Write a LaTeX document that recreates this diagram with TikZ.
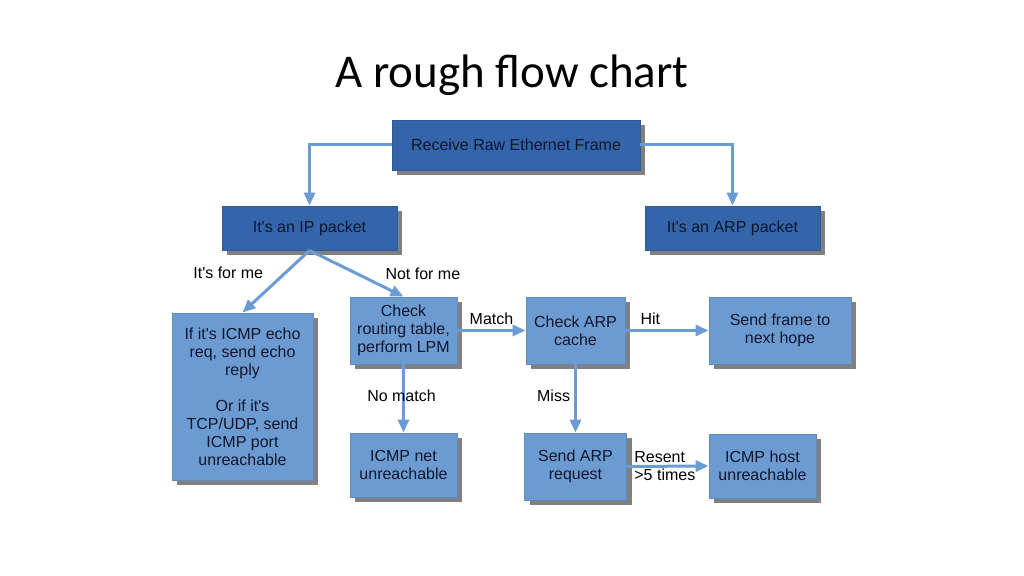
\documentclass[tikz,border=0pt]{standalone}
\usepackage{fontspec}
\setmainfont{Liberation Sans}
\newfontfamily\titlefont{Carlito}
\usetikzlibrary{positioning,arrows.meta,shadows}

\definecolor{darkbox}{RGB}{52,101,170}
\definecolor{lightbox}{RGB}{108,155,210}
\definecolor{arrowblue}{RGB}{106,155,210}
\definecolor{boxtext}{RGB}{14,22,44}
\definecolor{shadowgray}{RGB}{128,128,128}

\newcommand{\apos}{\textquotesingle}

\tikzset{
	box/.style={rectangle, draw=#1!90!black, line width=0.4pt, fill=#1,
		text=boxtext, align=center, inner sep=0pt,
		font=\fontsize{8}{9}\selectfont,
		drop shadow={shadow xshift=2.5pt, shadow yshift=-2.5pt,
			fill=shadowgray, opacity=1}},
	darkbox/.style={box=darkbox},
	lightbox/.style={box=lightbox},
	arr/.style={draw=arrowblue, line width=1.5pt,
		-{Triangle[length=6.5pt,width=5.5pt]}},
	lbl/.style={text=black, font=\fontsize{8}{9}\selectfont, inner sep=2pt}
}

\begin{document}
\begin{tikzpicture}[x=0.5pt,y=-0.5pt]
	\useasboundingbox (0,0) rectangle (1024,576);

	\node[font=\titlefont\fontsize{23.5}{28}\selectfont] (title) at (512,75) {A rough flow chart};

	\node[darkbox, minimum width=124pt, minimum height=25pt] 
		  (recv) at (516,145) {Receive Raw Ethernet Frame};
	\node[darkbox, minimum width=87.5pt, minimum height=22pt] 
		  (ip) at (309.5,228) {It\apos s an IP packet};
	\node[darkbox, minimum width=87.5pt, minimum height=22pt] 
		  (arp) at (732.5,228) {It\apos s an ARP packet};

	\node[lightbox, minimum width=70.5pt, minimum height=83.5pt] 
		  (echo) at (242.5,396.5) {If it\apos s ICMP echo\\req, send echo\\reply\\[9pt]
		  Or if it\apos s\\TCP/UDP, send\\ICMP port\\unreachable};
	\node[lightbox, minimum width=53.5pt, minimum height=33.5pt] 
		  (route) at (403.5,330.5) {Check\\routing table,\\perform LPM};
	\node[lightbox, minimum width=49.5pt, minimum height=33.5pt] 
		  (cache) at (575.5,330.5) {Check ARP\\cache};
	\node[lightbox, minimum width=71pt, minimum height=33.5pt] 
		  (send) at (780,330.5) {Send frame to\\next hope};
	\node[lightbox, minimum width=53.5pt, minimum height=32pt] 
		  (net) at (403.5,465) {ICMP net\\unreachable};
	\node[lightbox, minimum width=51pt, minimum height=33.5pt] 
		  (req) at (575.5,466.5) {Send ARP\\request};
	\node[lightbox, minimum width=53.5pt, minimum height=32pt] 
		  (host) at (762.5,466) {ICMP host\\unreachable};

	\draw[arr] (recv.west) -| (ip.north);
	\draw[arr] (recv.east) -| (arp.north);
	\draw[arr] (ip.south) -- node[lbl,pos=0.55,anchor=south east,xshift=-2pt]{It\apos s for me} (echo.north);
	\draw[arr] (ip.south) -- node[lbl,pos=0.75,anchor=south west]{Not for me} (route.north);
	\draw[arr] (route.east) -- node[lbl,above]{Match} (cache.west);
	\draw[arr] (cache.east) -- node[lbl,pos=0.3,above]{Hit} (send.west);
	\draw[arr] (route.south) -- node[lbl,yshift=1.5pt,xshift=-1pt]{No match} (net.north);
	\draw[arr] (cache.south) -- node[lbl,left,yshift=1.5pt]{Miss} (req.north);
	\draw[arr] (req.east) -- node[lbl,pos=0,anchor=west,align=left,xshift=1pt]{Resent\\>5 times} (host.west);
\end{tikzpicture}
\end{document}
